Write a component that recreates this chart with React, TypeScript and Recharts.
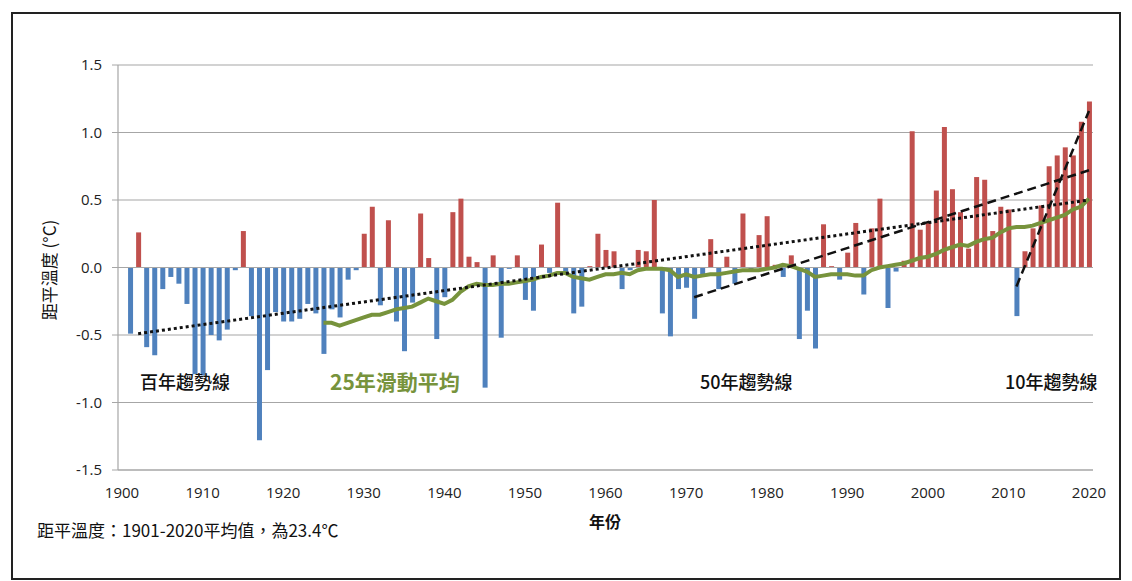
import { ComposedChart, Bar, Line, Cell, XAxis, YAxis, CartesianGrid, ReferenceLine } from 'recharts'

const firstYear = 1900
const lastYear = 2020

// annual temperature anomaly 1901-2020 (℃)
const anomaly = [
  -0.49, 0.26, -0.59, -0.65, -0.16, -0.07, -0.12, -0.27, -0.79, -0.80,
  -0.50, -0.54, -0.46, -0.02, 0.27, -0.36, -1.28, -0.76, -0.33, -0.40,
  -0.40, -0.38, -0.27, -0.34, -0.64, -0.31, -0.37, -0.09, -0.02, 0.25,
  0.45, -0.28, 0.35, -0.40, -0.62, -0.26, 0.40, 0.07, -0.53, -0.22,
  0.41, 0.51, 0.08, 0.04, -0.89, 0.09, -0.52, -0.01, 0.09, -0.24,
  -0.32, 0.17, -0.04, 0.48, -0.04, -0.34, -0.29, 0.01, 0.25, 0.13,
  0.12, -0.16, -0.02, 0.13, 0.12, 0.50, -0.34, -0.51, -0.16, -0.15,
  -0.38, -0.05, 0.21, -0.16, 0.08, -0.12, 0.40, -0.03, 0.24, 0.38,
  0.02, -0.07, 0.09, -0.53, -0.32, -0.60, 0.32, 0.01, -0.09, 0.11,
  0.33, -0.20, 0.29, 0.51, -0.30, -0.03, 0.05, 1.01, 0.28, 0.33,
  0.57, 1.04, 0.58, 0.41, 0.14, 0.67, 0.65, 0.27, 0.45, 0.43,
  -0.36, 0.12, 0.29, 0.46, 0.75, 0.83, 0.89, 0.83, 1.08, 1.23,
]

// 25-year moving average, 1925-2020
const maStart = 1925
const movingAvg = [
  -0.41, -0.41, -0.43, -0.41, -0.39, -0.37, -0.35, -0.35, -0.33, -0.31,
  -0.30, -0.29, -0.26, -0.23, -0.25, -0.27, -0.24, -0.18, -0.14, -0.12,
  -0.13, -0.13, -0.12, -0.12, -0.11, -0.10, -0.09, -0.07, -0.06, -0.04,
  -0.04, -0.07, -0.08, -0.09, -0.07, -0.05, -0.05, -0.04, -0.05, -0.02,
  -0.01, -0.01, -0.01, -0.02, -0.07, -0.05, -0.07, -0.06, -0.05, -0.05,
  -0.04, -0.03, -0.02, -0.02, -0.02, -0.01, 0.00, 0.02, 0.01, -0.01,
  -0.03, -0.07, -0.06, -0.05, -0.05, -0.05, -0.06, -0.06, -0.02, 0.00,
  0.01, 0.02, 0.03, 0.05, 0.07, 0.08, 0.10, 0.13, 0.15, 0.17,
  0.16, 0.19, 0.21, 0.22, 0.26, 0.29, 0.30, 0.30, 0.31, 0.33,
  0.35, 0.37, 0.39, 0.43, 0.45, 0.51,
]

// trend line end points [year, value]
const trend100: [number, number][] = [[1902, -0.49], [2020, 0.50]]
const trend50: [number, number][] = [[1971, -0.22], [2020, 0.72]]
const trend10: [number, number][] = [[2011, -0.14], [2020, 1.16]]

const yTicks = [-1.5, -1.0, -0.5, 0, 0.5, 1.0, 1.5]

const at = (pts: [number, number][], y: number) => {
  const p = pts.find(d => d[0] === y)
  return p ? p[1] : null
}

const data = [] as any[]
for (let y = firstYear; y <= lastYear; y++) {
  const i = y - firstYear - 1
  data.push({
    year: y,
    value: i >= 0 ? anomaly[i] : null,
    ma: y >= maStart ? movingAvg[y - maStart] : null,
    t100: at(trend100, y),
    t50: at(trend50, y),
    t10: at(trend10, y),
  })
}

const font = '"Noto Sans CJK TC", "Open Sans", sans-serif'
const tickStyle = { fontSize: 15, fill: '#222', fontFamily: '"Open Sans", sans-serif' }

const note = (text: string, left: number, top: number, extra: any = {}) => (
  <div style={{ position: 'absolute', left, top, fontFamily: font, fontSize: 17, fontWeight: 500, color: '#111', whiteSpace: 'nowrap', lineHeight: 1, ...extra }}>{text}</div>
)

export default function App() {
  return (
    <div style={{ position: 'absolute', left: 0, top: 0, width: 1132, height: 581, background: '#fff', overflow: 'hidden' }}>
      <div style={{ position: 'absolute', left: 11, top: 12, width: 1106, height: 564, border: '2px solid #222' }} />
      <ComposedChart width={1132} height={581} data={data} margin={{ top: 65, right: 39, left: 58, bottom: 81 }} style={{ position: 'absolute', left: 0, top: 0 }}>
        <CartesianGrid vertical={false} stroke="#a6a6a6" strokeWidth={1.2} />
        <XAxis dataKey="year" interval={9} tick={tickStyle} tickLine={false} tickMargin={11} height={30} axisLine={{ stroke: '#a6a6a6', strokeWidth: 1.2 }} />
        <YAxis domain={[-1.5, 1.5]} ticks={yTicks} tickFormatter={(v: number) => v.toFixed(1)} tick={tickStyle} width={60} tickSize={6} tickMargin={10} axisLine={{ stroke: '#a6a6a6', strokeWidth: 1.2 }} tickLine={{ stroke: '#a6a6a6' }} />
        <ReferenceLine y={0} stroke="#a6a6a6" strokeWidth={1.2} />
        <Bar dataKey="value" barSize={5} isAnimationActive={false}>
          {data.map(d => <Cell key={d.year} fill={d.value >= 0 ? '#c0504d' : '#4f81bd'} />)}
        </Bar>
        <Line dataKey="ma" stroke="#77933c" strokeWidth={4} dot={false} isAnimationActive={false} />
        <Line dataKey="t100" connectNulls stroke="#111" strokeWidth={3} strokeDasharray="3 3" dot={false} isAnimationActive={false} />
        <Line dataKey="t50" connectNulls stroke="#111" strokeWidth={2.5} strokeDasharray="9 5" dot={false} isAnimationActive={false} />
        <Line dataKey="t10" connectNulls stroke="#111" strokeWidth={2.5} strokeDasharray="9 5" dot={false} isAnimationActive={false} />
      </ComposedChart>
      {note('百年趨勢線', 140, 372, { fontSize: 18 })}
      {note('25年滑動平均', 330, 371, { fontSize: 21, fontWeight: 700, color: '#77933c' })}
      {note('50年趨勢線', 700, 372, { fontSize: 18 })}
      {note('10年趨勢線', 1005, 372, { fontSize: 18 })}
      {note('年份', 589, 513, { fontSize: 16, fontWeight: 700 })}
      {note('距平溫度：1901-2020平均值，為23.4℃', 37, 521, { fontSize: 17, fontWeight: 400 })}
      <div style={{ position: 'absolute', left: 48, top: 270, transform: 'translate(-50%, -50%) rotate(-90deg)', fontFamily: font, fontSize: 17, color: '#111', whiteSpace: 'nowrap' }}>距平溫度 (°C)</div>
    </div>
  )
}
